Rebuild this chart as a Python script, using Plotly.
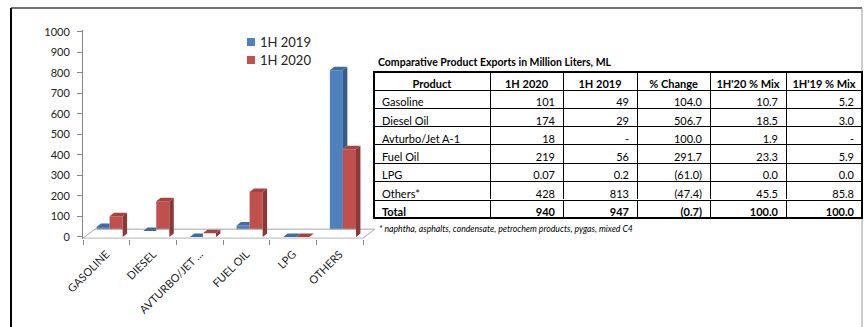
import plotly.graph_objects as go

W, H = 864, 327

# ---------------- data ----------------
categories = ["GASOLINE", "DIESEL", "AVTURBO/JET ...", "FUEL OIL", "LPG", "OTHERS"]
series_names = ["1H 2019", "1H 2020"]
exports_2019 = [49, 29, 0, 56, 0.2, 813]
exports_2020 = [101, 174, 18, 219, 0.07, 428]
y_ticks = [0, 100, 200, 300, 400, 500, 600, 700, 800, 900, 1000]

table_title = "Comparative Product Exports in Million Liters, ML"
table_header = ["Product", "1H 2020", "1H 2019", "% Change", "1H'20 % Mix", "1H'19 % Mix"]
products = ["Gasoline", "Diesel Oil", "Avturbo/Jet A-1", "Fuel Oil", "LPG", "Others*", "Total"]
t_2020 = [101, 174, 18, 219, 0.07, 428, 940]
t_2019 = [49, 29, None, 56, 0.2, 813, 947]
t_change = [104.0, 506.7, 100.0, 291.7, -61.0, -47.4, -0.7]
t_mix20 = [10.7, 18.5, 1.9, 23.3, 0.0, 45.5, 100.0]
t_mix19 = [5.2, 3.0, None, 5.9, 0.0, 85.8, 100.0]
footnote = "* naphtha, asphalts, condensate, petrochem products, pygas, mixed C4"

# ---------------- styling ----------------
FONT = "Lato"
BLUE, BLUE_TOP, BLUE_SIDE = "#4F81BD", "#3F6CA3", "#375C8A"
RED, RED_TOP, RED_SIDE = "#C0504D", "#A8423F", "#8B3836"
AXIS_GRAY = "#868686"
BAR_W = 0.28
OFFSETS = [-0.21, 0.07]
DX, DY = 0.095, 17          # bar depth (x units, y units)
FDX, FDY, FY0 = 0.257, 44, -6  # floor depth
series_colors = [BLUE, RED]

def px_x(p):
    return p / W

def px_y(p):
    return 1 - p / H

idx = list(range(len(categories)))
fig = go.Figure()

# floor
fig.add_trace(go.Scatter(
    x=[-0.5, len(categories) - 0.5, len(categories) - 0.5 + FDX, -0.5 + FDX, -0.5],
    y=[FY0, FY0, FY0 + FDY, FY0 + FDY, FY0],
    mode="lines", fill="toself", fillcolor="white",
    line=dict(color="#A6A6A6", width=1), showlegend=False, hoverinfo="skip"))

# front faces (bars)
for name, vals, off, col in [(series_names[0], exports_2019, OFFSETS[0], BLUE),
                             (series_names[1], exports_2020, OFFSETS[1], RED)]:
    fig.add_trace(go.Bar(x=idx, y=vals, width=BAR_W, offset=off, name=name,
                         showlegend=False,
                         marker=dict(color=col, line=dict(width=0))))

# 3D top & side faces computed from data
def poly_trace(xs, ys, color):
    return go.Scatter(x=xs, y=ys, mode="lines", fill="toself", fillcolor=color,
                      line=dict(width=0, color=color), showlegend=False, hoverinfo="skip")

bx_top, by_top, bx_side, by_side = [], [], [], []
rx_top, ry_top, rx_side, ry_side = [], [], [], []
for i, (vb, vr) in enumerate(zip(exports_2019, exports_2020)):
    x0 = i + OFFSETS[0]
    x1 = x0 + BAR_W
    x2 = i + OFFSETS[1] + BAR_W
    if vb > vr:
        bx_top += [x0, x1, x1 + DX, x0 + DX, x0, None]
        by_top += [vb, vb, vb + DY, vb + DY, vb, None]
        bx_side += [x1, x1 + DX, x1 + DX, x1, x1, None]
        by_side += [vr, vr + DY, vb + DY, vb, vr, None]
    else:
        bx_top += [x0, x1, x1, x0 + DX, x0, None]
        by_top += [vb, vb, vb + DY, vb + DY, vb, None]
    xr0 = i + OFFSETS[1]
    rx_top += [xr0, x2, x2 + DX, xr0 + DX, xr0, None]
    ry_top += [vr, vr, vr + DY, vr + DY, vr, None]
    rx_side += [x2, x2 + DX, x2 + DX, x2, x2, None]
    ry_side += [0, DY, vr + DY, vr, 0, None]

fig.add_trace(poly_trace(bx_side, by_side, BLUE_SIDE))
fig.add_trace(poly_trace(bx_top, by_top, BLUE_TOP))
fig.add_trace(poly_trace(rx_side, ry_side, RED_SIDE))
fig.add_trace(poly_trace(rx_top, ry_top, RED_TOP))

# ---------------- table ----------------
def fmt_qty(v):
    if v is None:
        return "-"
    return f"{int(v)}" if float(v).is_integer() else f"{v:g}"

def fmt_pct(v):
    if v is None:
        return "-"
    s = f"{abs(v):.1f}"
    return f"({s})" if v < 0 else s

NBSP = "\u00a0"
cols = [list(products),
        [fmt_qty(v) for v in t_2020],
        [fmt_qty(v) for v in t_2019],
        [fmt_pct(v) for v in t_change],
        [fmt_pct(v) for v in t_mix20],
        [fmt_pct(v) for v in t_mix19]]
cols = [[s.replace(" ", NBSP) for s in c] for c in cols]
body_cols = [c[:-1] for c in cols]
total_cells = [c[-1] for c in cols]
col_widths = [116, 73, 74, 73, 76, 76]
col_align = ["left"] + ["right"] * 5
TABLE_X = [px_x(374), px_x(862)]
TOTAL_TOP = 200

fig.add_trace(go.Table(
    domain=dict(x=TABLE_X, y=[px_y(TOTAL_TOP), px_y(72)]),
    columnwidth=col_widths,
    header=dict(values=[h.replace(" ", NBSP) for h in table_header],
                align="center", height=18, fill=dict(color="white"),
                line=dict(color="black", width=1),
                font=dict(family=FONT, size=11, color="black", weight="bold")),
    cells=dict(values=body_cols, align=col_align,
               height=18.3, fill=dict(color="white"),
               line=dict(color="black", width=1),
               font=dict(family=FONT, size=11, color="black"))))

# total row (bold) as its own table block
fig.add_trace(go.Table(
    domain=dict(x=TABLE_X, y=[px_y(218), px_y(TOTAL_TOP)]),
    columnwidth=col_widths,
    header=dict(values=total_cells, align=col_align, height=18,
                fill=dict(color="white"), line=dict(color="black", width=1),
                font=dict(family=FONT, size=11, color="black", weight="bold")),
    cells=dict(values=[])))

# ---------------- legend (manual, Excel-like) ----------------
legend_shapes, legend_annots = [], []
for k, (name, col) in enumerate(zip(series_names, series_colors)):
    cy = 42 + 18 * k
    legend_shapes.append(dict(type="rect", xref="paper", yref="paper",
                              x0=px_x(247), x1=px_x(255), y0=px_y(cy + 4), y1=px_y(cy - 4),
                              fillcolor=col, line=dict(width=0)))
    legend_annots.append(dict(text=name, x=px_x(258), y=px_y(cy), xref="paper",
                              yref="paper", xanchor="left", yanchor="middle",
                              showarrow=False,
                              font=dict(family=FONT, size=13, color="#222222")))

# ---------------- layout ----------------
fig.update_layout(
    width=W, height=H, margin=dict(l=0, r=0, t=0, b=0, autoexpand=False),
    paper_bgcolor="white", plot_bgcolor="rgba(0,0,0,0)",
    barmode="overlay",
    font=dict(family=FONT, color="#222222"),
    showlegend=False,
    xaxis=dict(domain=[px_x(83), px_x(377)], range=[-0.5, 5.8], automargin=False,
               tickmode="array", tickvals=idx, ticktext=categories,
               tickangle=-45, ticks="", showline=False, showgrid=False,
               zeroline=False, ticklabelstandoff=6,
               tickfont=dict(family=FONT, size=11, color="#222222"),
               minor=dict(tickmode="array",
                          tickvals=[i - 0.5 for i in range(len(categories) + 1)],
                          ticks="outside", ticklen=5, tickcolor=AXIS_GRAY,
                          showgrid=False)),
    yaxis=dict(domain=[(H - 238.8) / H, (H - 29.9) / H], range=[-9, 1010],
               automargin=False,
               tickmode="array", tickvals=y_ticks, ticks="outside", ticklen=5,
               tickcolor=AXIS_GRAY, showline=True, linecolor=AXIS_GRAY,
               showgrid=False, zeroline=False, ticklabelstandoff=5,
               tickfont=dict(family=FONT, size=11, color="#222222")),
    annotations=[
        dict(text=f"<b>{table_title}</b>", x=px_x(376), y=px_y(62), xref="paper",
             yref="paper", xanchor="left", yanchor="middle", showarrow=False,
             font=dict(family=FONT, size=10.5, color="black")),
        dict(text=f"<i>{footnote}</i>", x=px_x(377), y=px_y(228), xref="paper",
             yref="paper", xanchor="left", yanchor="middle", showarrow=False,
             font=dict(family=FONT, size=8.7, color="black")),
    ] + legend_annots,
    shapes=[
        dict(type="line", xref="paper", yref="paper", x0=px_x(11), x1=px_x(11),
             y0=-0.05, y1=px_y(8), line=dict(color="black", width=2)),
        dict(type="line", xref="paper", yref="paper", x0=px_x(11), x1=px_x(862),
             y0=px_y(8), y1=px_y(8), line=dict(color="#404040", width=1.5)),
        dict(type="line", xref="paper", yref="paper", x0=px_x(862), x1=px_x(862),
             y0=-0.05, y1=px_y(8), line=dict(color="#9A9A9A", width=1)),
        dict(type="rect", xref="paper", yref="paper", x0=px_x(374), x1=px_x(862),
             y0=px_y(218), y1=px_y(72), line=dict(color="black", width=2)),
    ] + legend_shapes,
)

fig.write_html("out.html")
